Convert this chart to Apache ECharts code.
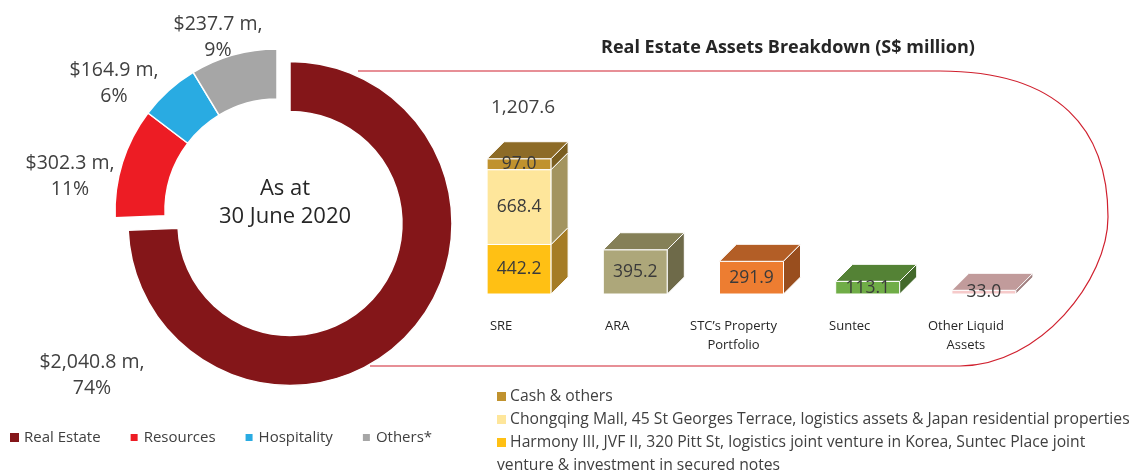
<!DOCTYPE html>
<html>
<head>
<meta charset="utf-8">
<script src="https://cdn.jsdelivr.net/npm/echarts@6/dist/echarts.min.js"></script>
<style>
  html, body { margin: 0; padding: 0; background: #fff; }
  #main { width: 1133px; height: 472px; }
</style>
</head>
<body>
<div id="main"></div>
<script>
// donut: total assets by segment
const pieNames = ['Real Estate', 'Resources', 'Hospitality', 'Others*'];
const pieValues = [2040.8, 302.3, 164.9, 237.7];
const pieColors = ['#841619', '#ED1C24', '#29ABE2', '#A6A6A6'];

// bar-of-pie: real estate breakdown
const barCategories = ['SRE', 'ARA', 'STC\u2019s Property\nPortfolio', 'Suntec', 'Other Liquid\nAssets'];
const sreParts = [
  'Harmony III, JVF II, 320 Pitt St, logistics joint venture in Korea, Suntec Place joint\nventure & investment in secured notes',
  'Chongqing Mall, 45 St Georges Terrace, logistics assets & Japan residential properties',
  'Cash & others'
];
const sreValues = [442.2, 668.4, 97.0];
const otherValues = [395.2, 291.9, 113.1, 33.0];

// front / top / side colours, bottom SRE segment first
const boxColors = [
  ['#FFC014', '#B08A2A', '#A57C25'],
  ['#FEE69B', '#B8A76E', '#A3945F'],
  ['#C0922E', '#8D6B27', '#7A5E20'],
  ['#ADA77A', '#858057', '#6E6A49'],
  ['#ED7D31', '#B35E26', '#994E1E'],
  ['#70AD47', '#548235', '#43692B'],
  ['#F6CACA', '#C19B9B', '#A07F7F']
];

const FONT = '"Open Sans", sans-serif';

function fmt(v) {
  const s = v.toFixed(1).split('.');
  return s[0].replace(/\B(?=(\d{3})+(?!\d))/g, ',') + '.' + s[1];
}

// stacked boxes: [categoryIndex, start, end]
let boxes = [];
let acc = 0;
sreValues.forEach(function (v) {
  boxes.push([0, acc, acc + v]);
  acc += v;
});
const sreTotal = acc;
otherValues.forEach(function (v, i) {
  boxes.push([i + 1, 0, v]);
});

const pieCenter = [277, 211];
const explode = 18;       // real estate slice pulled out along its bisector
const pieLabelPos = [[92, 375], [70, 176], [114, 83], [218, 37]];

// bisector of first slice, clockwise from 12 o'clock
const total = pieValues.reduce(function (a, b) { return a + b; }, 0);
const midAng = Math.PI * pieValues[0] / total;
const explodedCenter = [pieCenter[0] + explode * Math.sin(midAng), pieCenter[1] - explode * Math.cos(midAng)];

let myChart = echarts.init(document.getElementById('main'));

function renderBox(params, api) {
  const idx = api.value(0);
  const p0 = api.coord([idx, api.value(1)]);
  const p1 = api.coord([idx, api.value(2)]);
  const w = 64, d = 17, shift = 18;
  const cx = p0[0] + shift;
  const x0 = cx - w / 2, x1 = cx + w / 2;
  const yb = p0[1], yt = p1[1];
  const c = boxColors[params.dataIndex];
  return {
    type: 'group',
    children: [
      { type: 'rect', shape: { x: x0, y: yt, width: w, height: yb - yt },
        style: { fill: c[0], stroke: '#fff', lineWidth: 1 } },
      { type: 'polygon', shape: { points: [[x0, yt], [x1, yt], [x1 + d, yt - d], [x0 + d, yt - d]] },
        style: { fill: c[1], stroke: '#fff', lineWidth: 1 } },
      { type: 'polygon', shape: { points: [[x1, yb], [x1 + d, yb - d], [x1 + d, yt - d], [x1, yt]] },
        style: { fill: c[2], stroke: '#fff', lineWidth: 1 } },
      { type: 'text', z2: 10, style: {
          text: fmt(api.value(2) - api.value(1)), x: cx, y: (yt + yb) / 2,
          align: 'center', verticalAlign: 'middle',
          font: '17.5px ' + FONT, fill: '#3A3A3A' } }
    ]
  };
}

let noteText = '';
let noteRich = {};
for (let i = sreParts.length - 1; i >= 0; i--) {
  noteRich['c' + i] = { width: 9, height: 9, backgroundColor: boxColors[i][0] };
  noteText += '{c' + i + '|} ' + sreParts[i] + (i > 0 ? '\n' : '');
}

const lineStyle = { fill: null, stroke: '#D0202E', lineWidth: 1.2 };

function pieSeries(center, shown) {
  return {
    type: 'pie',
    center: center,
    radius: [112, 162],
    startAngle: 90,
    silent: true,
    emphasis: { disabled: true },
    itemStyle: { borderColor: '#fff', borderWidth: 1.5 },
    label: {
      show: true,
      position: 'outside',
      overflow: 'none',
      fontSize: 19.5,
      lineHeight: 26,
      color: '#404040',
      fontFamily: FONT,
      formatter: function (p) {
        return '$' + fmt(p.value) + ' m,\n' + Math.round(p.percent) + '%';
      }
    },
    labelLine: { show: false },
    labelLayout: function (p) {
      const pos = pieLabelPos[p.dataIndex];
      return { x: pos[0], y: pos[1], align: 'center', verticalAlign: 'middle' };
    },
    data: pieNames.map(function (n, i) {
      const on = shown(i);
      return {
        name: n,
        value: pieValues[i],
        itemStyle: on ? { color: pieColors[i] } : { color: 'transparent', borderWidth: 0 },
        label: { show: on }
      };
    })
  };
}

let option = {
  animation: false,
  backgroundColor: '#fff',
  textStyle: { fontFamily: FONT },
  legend: {
    data: pieNames.map(function (n, i) { return { name: n, itemStyle: { color: pieColors[i] } }; }),
    left: 5,
    top: 425,
    icon: 'rect',
    itemWidth: 9,
    itemHeight: 9,
    itemGap: 28,
    selectedMode: false,
    textStyle: { fontSize: 15, color: '#404040', fontFamily: FONT }
  },
  grid: { left: 443, right: 109, top: 70, bottom: 178 },
  xAxis: {
    type: 'category',
    data: barCategories,
    axisLine: { show: false },
    axisTick: { show: false },
    axisLabel: { margin: 23, fontSize: 13, lineHeight: 19, color: '#262626', fontFamily: FONT }
  },
  yAxis: { type: 'value', min: 0, max: 2000, show: false, splitLine: { show: false } },
  graphic: [
    { type: 'line', z: -10, shape: { x1: 358, y1: 71, x2: 940, y2: 71 }, style: lineStyle },
    { type: 'bezierCurve', z: -10,
      shape: { x1: 940, y1: 71, cpx1: 1060, cpy1: 71, cpx2: 1108, cpy2: 130, x2: 1108, y2: 217 },
      style: lineStyle },
    { type: 'bezierCurve', z: -10,
      shape: { x1: 1108, y1: 217, cpx1: 1108, cpy1: 280, cpx2: 1040, cpy2: 366, x2: 960, y2: 366 },
      style: lineStyle },
    { type: 'line', z: -10, shape: { x1: 960, y1: 366, x2: 370, y2: 366 }, style: lineStyle },
    {
      type: 'text',
      style: { text: 'As at\n30 June 2020', x: 285, y: 203, align: 'center', verticalAlign: 'middle',
        font: '22px ' + FONT, lineHeight: 28, fill: '#262626' }
    },
    {
      type: 'text',
      style: { text: 'Real Estate Assets Breakdown (S$ million)', x: 788, y: 48, align: 'center',
        verticalAlign: 'middle', font: 'bold 18px ' + FONT, fill: '#262626' }
    },
    {
      type: 'text',
      style: { text: noteText, rich: noteRich, x: 497, y: 385, font: '15.7px ' + FONT,
        lineHeight: 23, fill: '#404040' }
    }
  ],
  series: [
    pieSeries(pieCenter, function (i) { return i > 0; }),
    pieSeries(explodedCenter, function (i) { return i === 0; }),
    {
      type: 'custom',
      renderItem: renderBox,
      encode: { x: 0, y: [1, 2] },
      clip: false,
      data: boxes
    },
    {
      type: 'scatter',
      symbolSize: 1,
      itemStyle: { color: 'transparent', opacity: 1 },
      label: {
        show: true, position: 'top', distance: 40, offset: [22, 0],
        fontSize: 19, lineHeight: 22, color: '#404040', fontFamily: FONT,
        formatter: function (p) { return fmt(p.value[1]); }
      },
      data: [[0, sreTotal]]
    }
  ]
};

myChart.setOption(option);
</script>
</body>
</html>
